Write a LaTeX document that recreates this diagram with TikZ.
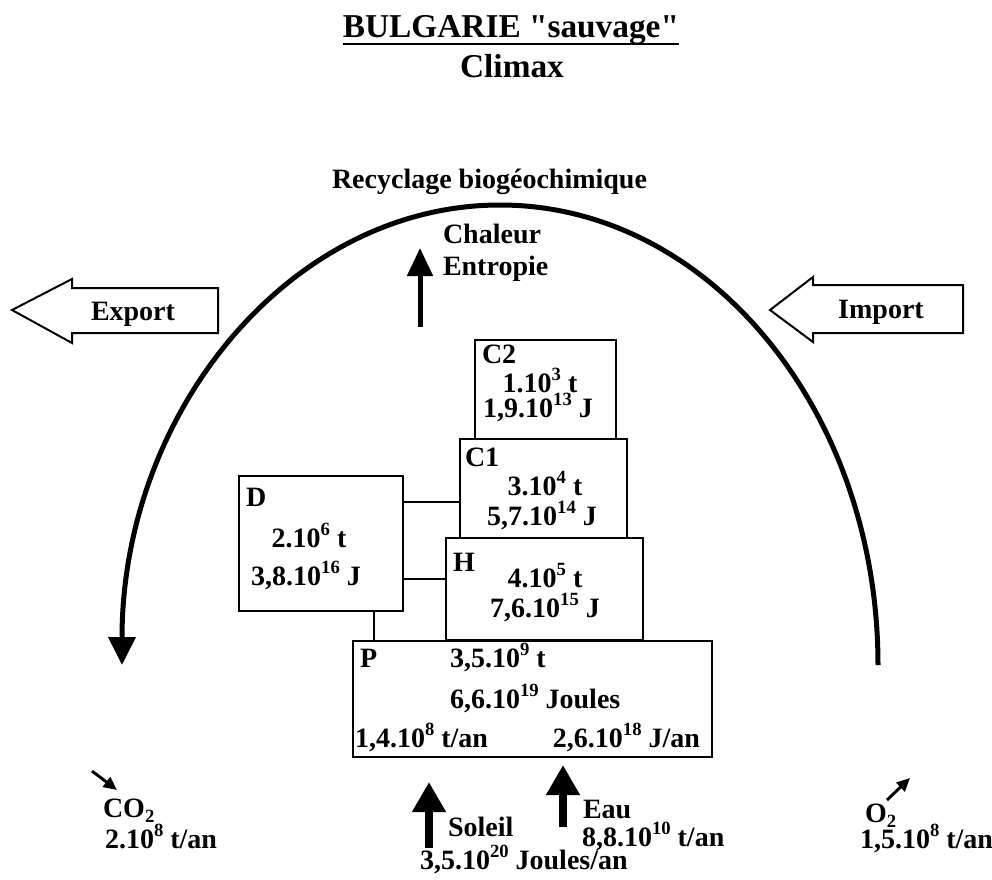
\documentclass[tikz,border=0pt]{standalone}
\usepackage{fontspec}
\setmainfont{Liberation Serif}[Ligatures=TeXOff]
\usetikzlibrary{arrows.meta}
\newcommand\sups[1]{\raisebox{0.42em}{\fontsize{14}{14}\selectfont #1}}
\newcommand\subs[1]{\raisebox{-0.2em}{\fontsize{14}{14}\selectfont #1}}
\begin{document}
\begin{tikzpicture}[x=0.75pt,y=0.75pt,
  every node/.style={inner sep=0pt, outer sep=0pt, font=\fontsize{21}{24}\selectfont\bfseries},
  titlefont/.style={font=\fontsize{25}{28}\selectfont\bfseries},
  box/.style={draw, line width=1.5pt, rectangle},
  link/.style={line width=0.8pt},
  hollow/.style={draw, line width=1.5pt, line join=miter, fill=white},
  bigflow/.style={line width=6pt, -{Triangle[length=22.5pt,width=24pt]}},
  heatflow/.style={line width=3.75pt, -{Triangle[length=21pt,width=18.75pt]}},
  gasflow/.style={line width=2.2pt, -{Triangle[length=10pt,width=9pt]}},
  cycle/.style={line width=3.75pt, -{Triangle[length=21pt,width=20pt]}}
]
\useasboundingbox (0,0) rectangle (992,-879);

% title
\node[titlefont, anchor=base] (title) at (511,-37) {BULGARIE "sauvage"};
\draw[line width=2pt] ([yshift=-5.25pt]title.base west) -- ([yshift=-5.25pt]title.base east);
\node[titlefont, anchor=base] (climax) at (512,-77) {Climax};

% recycling arc
\node[anchor=base west] (recy) at (332,-188) {Recyclage biogéochimique};
\coordinate (arcR) at (878,-665);
\draw[cycle] (arcR) arc[start angle=0, end angle=180, x radius=378, y radius=460] coordinate (arcL);

% heat
\node[anchor=base west] (chaleur) at (443,-243) {Chaleur};
\node[anchor=base west] (entropie) at (443,-275) {Entropie};
\coordinate (chb) at (420,-327);
\coordinate (cht) at (420,-248);
\draw[heatflow] (chb) -- (cht);

% export / import
\draw[hollow] (12,-310) -- (72,-279) -- (72,-288) -- (218,-288) -- (218,-333) -- (72,-333) -- (72,-343) -- cycle;
\node[anchor=base] (export) at (133,-320) {Export};
\draw[hollow] (770,-310) -- (813,-277) -- (813,-285) -- (963,-285) -- (963,-333) -- (813,-333) -- (813,-342) -- cycle;
\node[anchor=base] (import) at (881,-318) {Import};

% boxes
\node[box, minimum width=105.75pt, minimum height=74.25pt] (C2) at (545.5,-389.5) {};
\node[box, minimum width=125.25pt, minimum height=74.25pt] (C1) at (543.5,-488.5) {};
\node[box, minimum width=147.75pt, minimum height=76.5pt] (H) at (544.5,-589) {};
\node[box, minimum width=123pt, minimum height=101.25pt] (D) at (321,-543.5) {};
\node[box, minimum width=269.25pt, minimum height=87pt] (P) at (532.5,-699) {};

% links
\draw[link] (D.east |- 0,-502) -- (C1.west |- 0,-502);
\draw[link] (D.east |- 0,-579) -- (H.west |- 0,-579);
\draw[link] (D.south -| 374,0) -- (P.north -| 374,0);

% box texts
\node[anchor=base west] (c2l) at (482,-363) {C2};
\node[anchor=base] (c2a) at (540,-392) {1.10\sups{3} t};
\node[anchor=base] (c2b) at (538,-417) {1,9.10\sups{13} J};

\node[anchor=base west] (c1l) at (465,-466) {C1};
\node[anchor=base] (c1a) at (545,-495) {3.10\sups{4} t};
\node[anchor=base] (c1b) at (542,-525) {5,7.10\sups{14} J};

\node[anchor=base west] (hl) at (453,-571) {H};
\node[anchor=base] (ha) at (545,-587) {4.10\sups{5} t};
\node[anchor=base] (hb) at (545,-617) {7,6.10\sups{15} J};

\node[anchor=base west] (dl) at (246,-506) {D};
\node[anchor=base] (da) at (309,-547) {2.10\sups{6} t};
\node[anchor=base] (db) at (306,-585) {3,8.10\sups{16} J};

\node[anchor=base west] (pl) at (360,-667) {P};
\node[anchor=base west] (pa) at (450,-667) {3,5.10\sups{9} t};
\node[anchor=base west] (pb) at (450,-708) {6,6.10\sups{19} Joules};
\node[anchor=base west] (pc) at (355,-747) {1,4.10\sups{8} t/an};
\node[anchor=base east] (pd) at (700,-747) {2,6.10\sups{18} J/an};

% bottom inputs / outputs
\coordinate (co2s) at (92,-771);
\coordinate (co2e) at (117,-790);
\draw[gasflow] (co2s) -- (co2e);
\node[anchor=base west] (co2) at (103,-817) {CO\subs{2}};
\node[anchor=base west] (co2v) at (105,-848) {2.10\sups{8} t/an};

\coordinate (o2s) at (887,-800);
\coordinate (o2e) at (910,-778);
\draw[gasflow] (o2s) -- (o2e);
\node[anchor=base west] (o2) at (865,-822) {O\subs{2}};
\node[anchor=base west] (o2v) at (860,-848) {1,5.10\sups{8} t/an};

\coordinate (solb) at (429,-848);
\coordinate (solt) at (429,-782);
\draw[bigflow] (solb) -- (solt);
\node[anchor=base west] (soleil) at (448,-836) {Soleil};
\node[anchor=base west] (soleilv) at (420,-869) {3,5.10\sups{20} Joules/an};

\coordinate (eaub) at (563,-827);
\coordinate (eaut) at (563,-765);
\draw[bigflow] (eaub) -- (eaut);
\node[anchor=base west] (eau) at (583,-818) {Eau};
\node[anchor=base west] (eauv) at (582,-846) {8,8.10\sups{10} t/an};
\end{tikzpicture}
\end{document}
